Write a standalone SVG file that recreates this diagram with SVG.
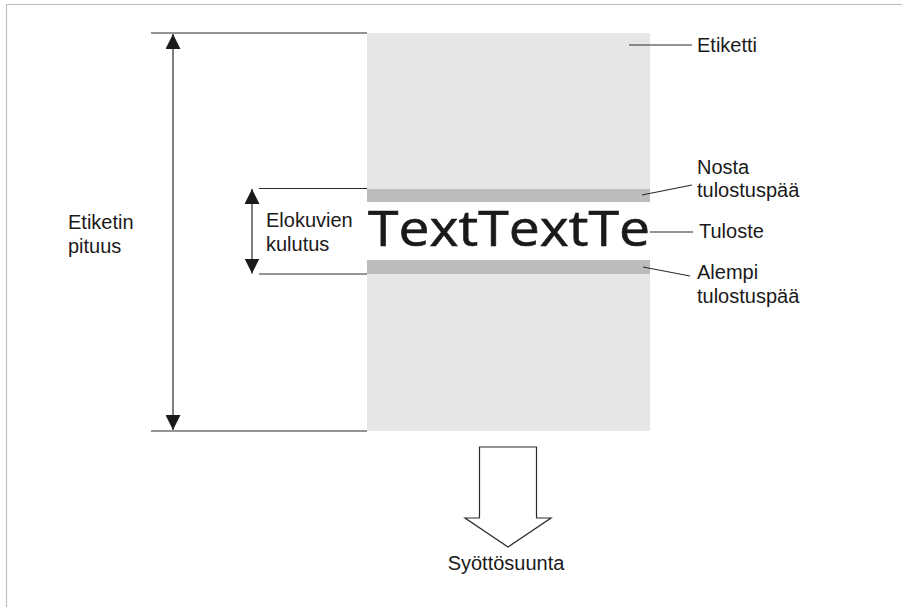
<svg xmlns="http://www.w3.org/2000/svg" width="902" height="607" viewBox="0 0 902 607">
  <style>
    .lbl { font-family: "Liberation Sans", Arial, sans-serif; font-size: 20px; fill: #1a1a1a; }
    .ln { stroke: #2a2a2a; stroke-width: 1.2; fill: none; }
    .print { font-family: "Open Sans", "DejaVu Sans", sans-serif; font-size: 49px; fill: #1a1a1a; stroke: #1a1a1a; stroke-width: 0.6; }
  </style>
  <defs>
    <marker id="tri" viewBox="0 0 10 10" refX="10" refY="5" markerWidth="15" markerHeight="15" markerUnits="userSpaceOnUse" orient="auto-start-reverse">
      <path d="M0,0 L10,5 L0,10 Z" fill="#1a1a1a"/>
    </marker>
  </defs>
  <rect width="902" height="607" fill="#ffffff"/>
  <!-- frame -->
  <path d="M6.5,607 V4.5 H902" stroke="#bdbdbd" stroke-width="1.2" fill="none"/>

  <!-- label strip -->
  <g id="label">
    <rect x="367" y="33" width="283" height="398" fill="#e6e6e8"/>
  </g>
  <g id="upper-head">
    <rect x="367" y="189" width="283" height="13" fill="#bcbcbe"/>
  </g>
  <g id="lower-head">
    <rect x="367" y="260" width="283" height="14" fill="#bcbcbe"/>
  </g>
  <g id="print-gap">
    <rect x="367" y="202" width="283" height="58" fill="#ffffff"/>
    <text class="print" x="368" y="246" textLength="282" lengthAdjust="spacingAndGlyphs">TextTextTe</text>
  </g>

  <!-- connectors, extension lines and leaders -->
  <g id="connectors">
    <line class="ln" x1="151" y1="33" x2="367" y2="33"/>
    <line class="ln" x1="151" y1="431" x2="367" y2="431"/>
    <line class="ln" x1="173" y1="34" x2="173" y2="430" marker-start="url(#tri)" marker-end="url(#tri)"/>
    <line class="ln" x1="259" y1="188.5" x2="367" y2="188.5"/>
    <line class="ln" x1="259" y1="274" x2="367" y2="274"/>
    <line class="ln" x1="252" y1="189" x2="252" y2="273.5" marker-start="url(#tri)" marker-end="url(#tri)"/>
    <line class="ln" x1="629" y1="45" x2="692" y2="45"/>
    <line class="ln" x1="642" y1="195" x2="692" y2="185"/>
    <line class="ln" x1="650" y1="232" x2="693" y2="232"/>
    <line class="ln" x1="643" y1="267" x2="690" y2="276"/>
  </g>

  <g id="feed-arrow">
    <path d="M479.5,447 H536.5 V518 H551 L508,547 L465,518 H479.5 Z" fill="#ffffff" stroke="#2a2a2a" stroke-width="1.2"/>
  </g>

  <!-- text labels -->
  <g id="labels">
    <text class="lbl" x="697" y="52">Etiketti</text>
    <text class="lbl" x="697" y="174">Nosta</text>
    <text class="lbl" x="697" y="197">tulostuspää</text>
    <text class="lbl" x="699" y="238">Tuloste</text>
    <text class="lbl" x="697" y="279">Alempi</text>
    <text class="lbl" x="697" y="303">tulostuspää</text>
    <text class="lbl" x="68" y="229">Etiketin</text>
    <text class="lbl" x="68" y="253">pituus</text>
    <text class="lbl" x="266" y="227">Elokuvien</text>
    <text class="lbl" x="266" y="251">kulutus</text>
    <text class="lbl" x="506" y="570" text-anchor="middle">Syöttösuunta</text>
  </g>
</svg>
